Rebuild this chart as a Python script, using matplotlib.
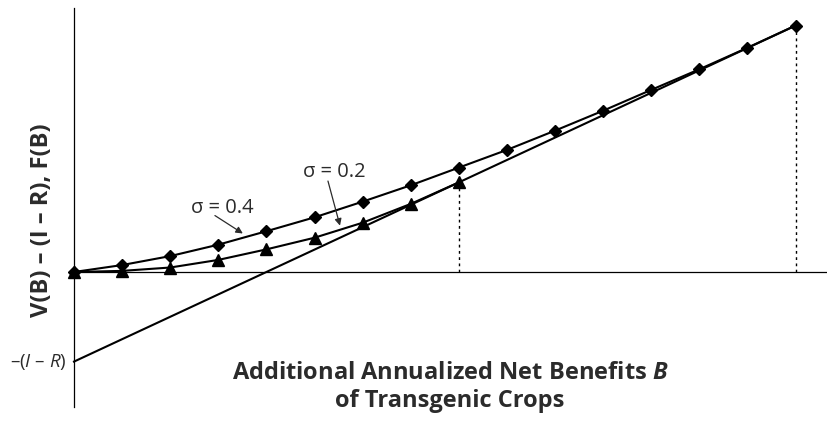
import matplotlib.pyplot as plt

plt.rcParams['font.family'] = ['Open Sans', 'DejaVu Sans']
plt.rcParams['mathtext.fontset'] = 'custom'
plt.rcParams['mathtext.rm'] = 'Open Sans'
plt.rcParams['mathtext.it'] = 'Open Sans:italic'
plt.rcParams['mathtext.bfit'] = 'Open Sans:italic:bold'

# benefit levels B (equal steps)
benefit = [0, 1, 2, 3, 4, 5, 6, 7, 8, 9, 10, 11, 12, 13, 14, 15]
# option value F(B) for sigma = 0.4
f_sigma04 = [0, 0.31, 0.71, 1.22, 1.82, 2.44, 3.14, 3.87, 4.66,
             5.45, 6.31, 7.20, 8.13, 9.05, 10.01, 11.0]
# option value F(B) for sigma = 0.2 (meets the NPV line at B = 8)
benefit_02 = [0, 1, 2, 3, 4, 5, 6, 7, 8]
f_sigma02 = [0, 0.05, 0.2, 0.54, 1.01, 1.53, 2.20, 3.04, 4.0]
# V(B) - (I - R), straight line
npv_b = [0, 15]
npv_val = [-4, 11]

dark = '#2b2b2b'

fig = plt.figure(figsize=(8.27, 4.21), dpi=100)
ax = fig.add_axes([0, 0, 1, 1])
ax.set_xlim(-74 / 48.1, (827 - 74) / 48.1)
ax.set_ylim(-149 / 22.4, 272 / 22.4)
ax.axis('off')

# axes drawn by hand
ax.plot([0, 0], [-6.03, 11.8], color='black', lw=0.9, zorder=1)
ax.plot([0, 16], [0, 0], color='black', lw=0.9, zorder=1)

ax.plot(npv_b, npv_val, color='black', lw=1.5, zorder=2)
ax.plot(benefit, f_sigma04, color='black', lw=1.5, marker='D', ms=6, zorder=3)
ax.plot(benefit_02, f_sigma02, color='black', lw=1.5, marker='^', ms=8, zorder=4)

# dotted drops to the x axis
ax.plot([benefit_02[-1]] * 2, [0, f_sigma02[-1]], color='black', lw=1,
        ls=(0, (2, 2.5)), zorder=1)
ax.plot([benefit[-1]] * 2, [0, f_sigma04[-1]], color='black', lw=1,
        ls=(0, (2, 2.5)), zorder=1)

arrow = dict(arrowstyle='-|>', lw=0.9, color=dark, mutation_scale=10,
             shrinkA=0, shrinkB=0)
ax.text(3.08, 2.86, 'σ = 0.4', fontsize=14.5, color=dark, ha='center', va='center')
ax.annotate('', xy=(3.51, 1.72), xytext=(2.93, 2.52), arrowprops=arrow)
ax.text(5.41, 4.46, 'σ = 0.2', fontsize=14.5, color=dark, ha='center', va='center')
ax.annotate('', xy=(5.53, 2.07), xytext=(5.28, 4.06), arrowprops=arrow)

ax.text(-0.15, -4, '–($\\mathit{I}$ – $\\mathit{R}$)', fontsize=13.5, color=dark,
        ha='right', va='center')

fig.text(42 / 827, 1 - 220 / 421, 'V(B) – (I – R), F(B)', rotation=90,
         fontsize=17, fontweight='bold', color=dark, ha='center', va='center')
fig.text(450 / 827, 1 - 387 / 421,
         'Additional Annualized Net Benefits $\\mathbfit{B}$\nof Transgenic Crops',
         fontsize=17, fontweight='bold', color=dark, ha='center', va='center',
         linespacing=1.25)

fig.savefig('out.png', dpi=100)
